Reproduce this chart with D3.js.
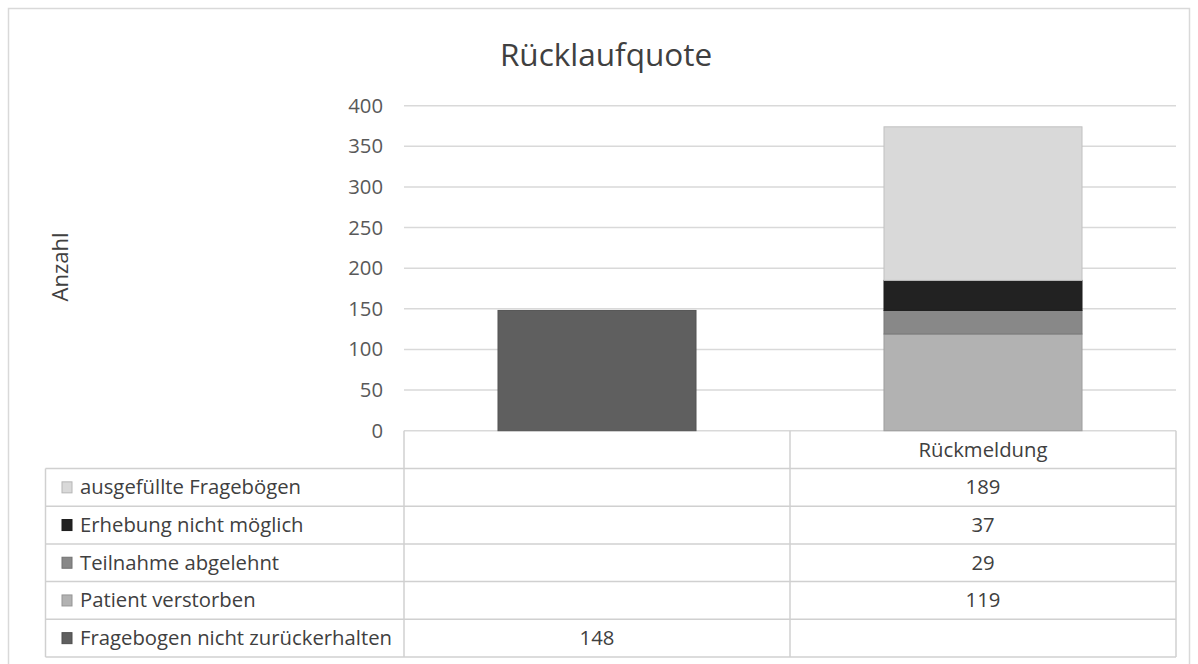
<!DOCTYPE html>
<html><head><meta charset="utf-8">
<script src="https://cdn.jsdelivr.net/npm/d3@7"></script>
<style>body{margin:0;background:#fff}svg{display:block}text{font-family:"Open Sans","Noto Sans",sans-serif}</style>
</head><body><svg id="c" width="1198" height="664"></svg>
<script>
const categories = ["", "Rückmeldung"];
const seriesNames = ["ausgefüllte Fragebögen","Erhebung nicht möglich","Teilnahme abgelehnt","Patient verstorben","Fragebogen nicht zurückerhalten"];
const ausgefuellte = [null, 189];
const erhebung = [null, 37];
const teilnahme = [null, 29];
const verstorben = [null, 119];
const nichtZurueck = [148, null];
const seriesColors = ["#d9d9d9","#222222","#888888","#b2b2b2","#5f5f5f"];
const yTicks = [0,50,100,150,200,250,300,350,400];
const title = "Rücklaufquote";
const yLabel = "Anzahl";

const seriesValues = [ausgefuellte, erhebung, teilnahme, verstorben, nichtZurueck];
const svg = d3.select("#c");
const FS = 20.3;
// outer frame
svg.append("rect").attr("x",8.5).attr("y",8.5).attr("width",1181).attr("height",670)
  .attr("fill","none").attr("stroke","#d9d9d9").attr("stroke-width",1.5);

const plotL=404, plotR=1176, plotT=105.7, plotB=430.7;
const x = d3.scaleBand().domain(categories).range([plotL,plotR]).paddingInner(0).paddingOuter(0);
const y = d3.scaleLinear().domain([0,400]).range([plotB,plotT]);

svg.append("text").attr("x",606).attr("y",66).attr("text-anchor","middle")
  .attr("font-size",31.5).attr("fill","#404040").text(title);

// gridlines
svg.append("g").selectAll("line").data(yTicks).join("line")
  .attr("x1",plotL).attr("x2",plotR).attr("y1",d=>y(d)).attr("y2",d=>y(d))
  .attr("stroke","#d9d9d9").attr("stroke-width",1.5);

// y axis labels
const ya = svg.append("g").attr("transform",`translate(${plotL},0)`)
  .call(d3.axisLeft(y).tickValues(yTicks).tickSize(0).tickPadding(21));
ya.select(".domain").remove();
ya.selectAll("text").attr("font-size",FS).attr("fill","#595959").attr("font-family","Open Sans");

svg.append("text").attr("transform",`translate(68,267) rotate(-90)`).attr("text-anchor","middle")
  .attr("font-size",22).attr("fill","#404040").text(yLabel);

// stacked bars: stack from bottom in reverse legend order
const rows = categories.map((c,i)=>{const o={cat:c}; seriesNames.forEach((s,j)=>o[s]=seriesValues[j][i]||0); return o;});
const stackOrder = seriesNames.slice().reverse();
const stack = d3.stack().keys(stackOrder)(rows);
const barW = x.bandwidth()*0.513;
stack.forEach(layer=>{
  const ci = seriesNames.indexOf(layer.key);
  svg.append("g").selectAll("rect").data(layer.filter(d=>d[1]-d[0]>0)).join("rect")
    .attr("x",d=>x(d.data.cat)+(x.bandwidth()-barW)/2)
    .attr("width",barW)
    .attr("y",d=>y(d[1])).attr("height",d=>y(d[0])-y(d[1]))
    .attr("fill",seriesColors[ci])
    .attr("stroke",d3.color(seriesColors[ci]).darker(0.35)).attr("stroke-width",1);
});

// data table
const tblL=45.5, rowH=37.7, headT=plotB, headB=468.5;
const g = svg.append("g").attr("stroke","#d0d0d0").attr("stroke-width",1.5).attr("fill","none");
const tableBottom = headB + rowH*seriesNames.length;
g.append("line").attr("x1",plotL).attr("x2",plotL).attr("y1",headT).attr("y2",tableBottom);
categories.forEach((c,i)=>{
  g.append("line").attr("x1",x(c)+x.bandwidth()).attr("x2",x(c)+x.bandwidth()).attr("y1",headT).attr("y2",tableBottom);
});
g.append("line").attr("x1",tblL).attr("x2",tblL).attr("y1",headB).attr("y2",tableBottom);
for(let r=0;r<=seriesNames.length;r++){
  const yy=headB+r*rowH;
  g.append("line").attr("x1",tblL).attr("x2",plotR).attr("y1",yy).attr("y2",yy);
}
categories.forEach(c=>{
  svg.append("text").attr("x",x(c)+x.bandwidth()/2).attr("y",(headT+headB)/2+7)
    .attr("text-anchor","middle").attr("font-size",FS).attr("fill","#404040").text(c);
});
seriesNames.forEach((s,r)=>{
  const cy = headB + r*rowH + rowH/2;
  svg.append("rect").attr("x",62).attr("y",cy-5.5).attr("width",10).attr("height",11)
    .attr("fill",seriesColors[r]).attr("stroke",d3.color(seriesColors[r]).darker(0.5)).attr("stroke-width",1);
  svg.append("text").attr("x",80).attr("y",cy+7).attr("font-size",FS).attr("fill","#404040").text(s);
  categories.forEach((c,i)=>{
    const v = seriesValues[r][i];
    if(v!=null) svg.append("text").attr("x",x(c)+x.bandwidth()/2).attr("y",cy+7)
      .attr("text-anchor","middle").attr("font-size",FS).attr("fill","#404040").text(v);
  });
});
</script></body></html>
